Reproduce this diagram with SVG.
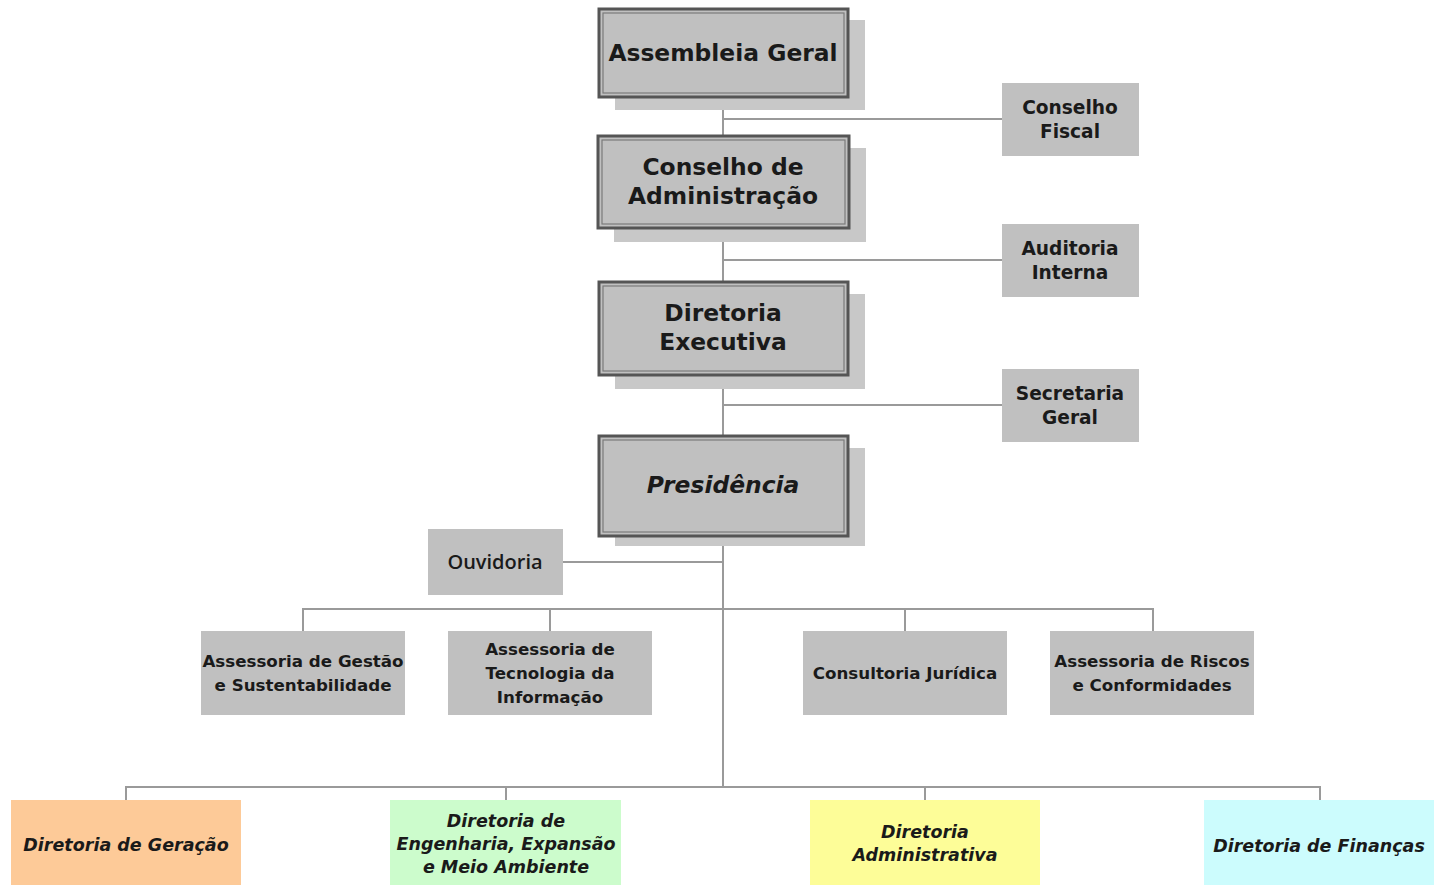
<svg xmlns="http://www.w3.org/2000/svg" width="1440" height="885" viewBox="0 0 1440 885">
<style>
.bg{fill:#ffffff}
.shadow{fill:#c8c8c8}
.main{fill:#c0c0c0;stroke:#555555;stroke-width:3}
.inner{fill:none;stroke:#7a7a7a;stroke-width:1.2}
.box{fill:#c0c0c0}
.conn{fill:none;stroke:#9a9a9a;stroke-width:2}
.t1{font-family:"DejaVu Sans",Verdana,sans-serif;font-weight:bold;font-size:23.4px;fill:#1a1a1a;text-anchor:middle}
.t2{font-family:"DejaVu Sans",Verdana,sans-serif;font-weight:bold;font-size:16.7px;fill:#1a1a1a;text-anchor:middle}
.t2b{font-family:"DejaVu Sans",Verdana,sans-serif;font-weight:bold;font-size:18.6px;fill:#1a1a1a;text-anchor:middle}
.t3{font-family:"Open Sans","DejaVu Sans",sans-serif;font-weight:600;font-size:20px;fill:#1a1a1a;text-anchor:middle}
.t4{font-family:"DejaVu Sans",Verdana,sans-serif;font-weight:bold;font-style:italic;font-size:17.5px;fill:#1a1a1a;text-anchor:middle}
</style>
<rect class="bg" width="1440" height="885"/>
<g id="connectors">
<path class="conn" d="M723 98 V787"/>
<path class="conn" d="M723 119 H1002"/>
<path class="conn" d="M723 260 H1002"/>
<path class="conn" d="M723 405 H1002"/>
<path class="conn" d="M563 562 H723"/>
<path class="conn" d="M303 631 V609 H1153 V631"/>
<path class="conn" d="M550 609 V631"/>
<path class="conn" d="M905 609 V631"/>
<path class="conn" d="M126 800 V787 H1320 V800"/>
<path class="conn" d="M506 787 V800"/>
<path class="conn" d="M925 787 V800"/>
</g>
<g id="assembleia">
<rect class="shadow" x="615" y="20" width="250" height="90"/>
<rect class="main" x="599" y="9" width="249" height="88"/>
<rect class="inner" x="603" y="13" width="241" height="80"/>
<text class="t1" x="723" y="61">Assembleia Geral</text>
</g>
<g id="conselho-adm">
<rect class="shadow" x="614" y="148" width="252" height="94"/>
<rect class="main" x="598" y="136" width="251" height="92"/>
<rect class="inner" x="602" y="140" width="243" height="84"/>
<text class="t1" x="723" y="175">Conselho de</text>
<text class="t1" x="723" y="204">Administração</text>
</g>
<g id="diretoria-exec">
<rect class="shadow" x="615" y="294" width="250" height="95"/>
<rect class="main" x="599" y="282" width="249" height="93"/>
<rect class="inner" x="603" y="286" width="241" height="85"/>
<text class="t1" x="723" y="321">Diretoria</text>
<text class="t1" x="723" y="350">Executiva</text>
</g>
<g id="presidencia">
<rect class="shadow" x="615" y="448" width="250" height="98"/>
<rect class="main" x="599" y="436" width="249" height="100"/>
<rect class="inner" x="603" y="440" width="241" height="92"/>
<text class="t1" x="723" y="493" font-style="italic" font-size="22.6px">Presidência</text>
</g>
<g id="conselho-fiscal">
<rect class="box" x="1002" y="83" width="137" height="73"/>
<text class="t2b" x="1070" y="114">Conselho</text>
<text class="t2b" x="1070" y="138">Fiscal</text>
</g>
<g id="auditoria">
<rect class="box" x="1002" y="224" width="137" height="73"/>
<text class="t2b" x="1070" y="255">Auditoria</text>
<text class="t2b" x="1070" y="279">Interna</text>
</g>
<g id="secretaria">
<rect class="box" x="1002" y="369" width="137" height="73"/>
<text class="t2b" x="1070" y="400">Secretaria</text>
<text class="t2b" x="1070" y="424">Geral</text>
</g>
<g id="ouvidoria">
<rect class="box" x="428" y="529" width="135" height="66"/>
<text class="t3" x="495" y="569">Ouvidoria</text>
</g>
<g id="assessoria-gestao">
<rect class="box" x="201" y="631" width="204" height="84"/>
<text class="t2" x="303" y="667">Assessoria de Gestão</text>
<text class="t2" x="303" y="691">e Sustentabilidade</text>
</g>
<g id="assessoria-ti">
<rect class="box" x="448" y="631" width="204" height="84"/>
<text class="t2" x="550" y="655">Assessoria de</text>
<text class="t2" x="550" y="679">Tecnologia da</text>
<text class="t2" x="550" y="703">Informação</text>
</g>
<g id="consultoria">
<rect class="box" x="803" y="631" width="204" height="84"/>
<text class="t2" x="905" y="679">Consultoria Jurídica</text>
</g>
<g id="assessoria-riscos">
<rect class="box" x="1050" y="631" width="204" height="84"/>
<text class="t2" x="1152" y="667">Assessoria de Riscos</text>
<text class="t2" x="1152" y="691">e Conformidades</text>
</g>
<g id="dir-geracao">
<rect x="11" y="800" width="230" height="85" fill="#fdca98"/>
<text class="t4" x="126" y="851">Diretoria de Geração</text>
</g>
<g id="dir-engenharia">
<rect x="390" y="800" width="231" height="85" fill="#ccfccc"/>
<text class="t4" x="506" y="827">Diretoria de</text>
<text class="t4" x="506" y="850">Engenharia, Expansão</text>
<text class="t4" x="506" y="873">e Meio Ambiente</text>
</g>
<g id="dir-administrativa">
<rect x="810" y="800" width="230" height="85" fill="#fdfd98"/>
<text class="t4" x="925" y="838">Diretoria</text>
<text class="t4" x="925" y="861">Administrativa</text>
</g>
<g id="dir-financas">
<rect x="1204" y="800" width="230" height="85" fill="#ccfcfd"/>
<text class="t4" x="1319" y="852">Diretoria de Finanças</text>
</g>
</svg>
